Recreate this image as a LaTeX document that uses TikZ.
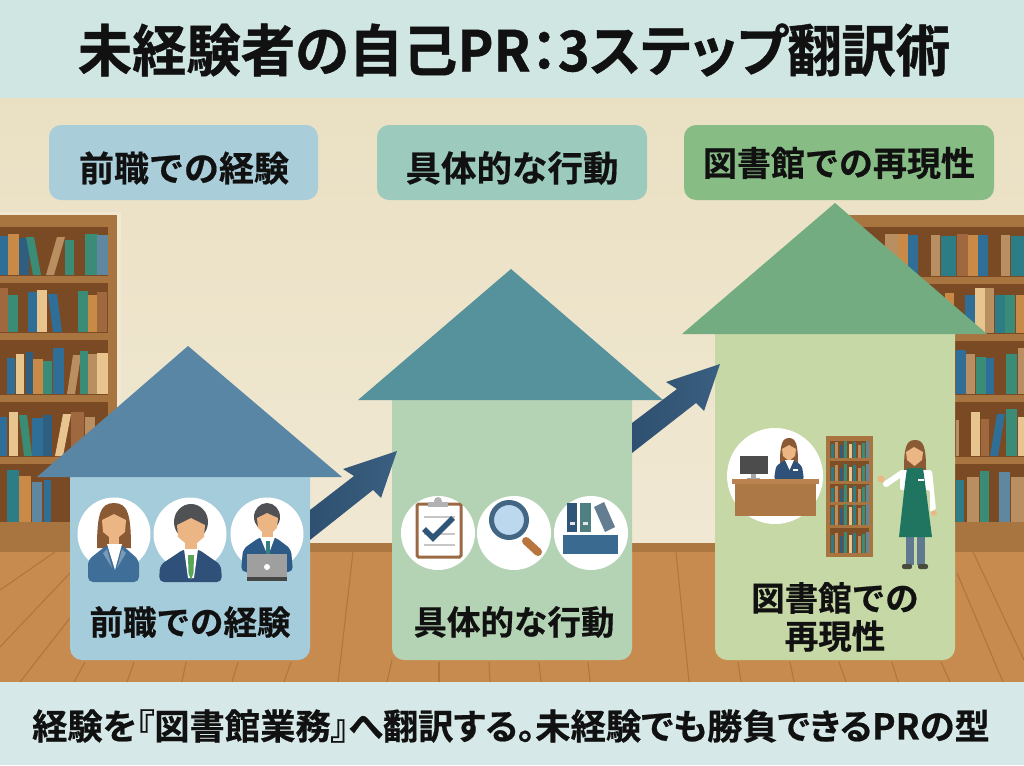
\documentclass[tikz,border=0pt]{standalone}
\usepackage{fontspec}
\setmainfont{Noto Sans CJK JP}
\newfontfamily\hv[FakeBold=0.5]{Noto Sans CJK JP Bold}
\newfontfamily\hvp[FakeBold=0.6,RawFeature={+palt}]{Noto Sans CJK JP Bold}
\newfontfamily\hvt[FakeBold=0.8,FakeStretch=0.97,RawFeature={+palt}]{Noto Sans CJK JP Bold}
\definecolor{bb}{HTML}{2F6E96}\definecolor{bo}{HTML}{C98A48}\definecolor{bd}{HTML}{2E5F80}
\definecolor{bg}{HTML}{3B8C76}\definecolor{bt}{HTML}{B98E60}\definecolor{bc}{HTML}{E8C58E}
\definecolor{bn}{HTML}{A0683E}\definecolor{bs}{HTML}{5F87A0}\definecolor{bq}{HTML}{2C7D85}
\definecolor{wood}{HTML}{A8743F}\definecolor{woodd}{HTML}{7A4A24}\definecolor{floorc}{HTML}{C78B4F}
\definecolor{seam}{HTML}{AE7740}\definecolor{band}{HTML}{D0E6E3}\definecolor{bandb}{HTML}{D6E9E8}
\definecolor{skin}{HTML}{EBB684}\definecolor{hairb}{HTML}{8A5A35}\definecolor{hairg}{HTML}{4F5154}
\definecolor{suita}{HTML}{3F6E98}\definecolor{suitb}{HTML}{2F5078}\definecolor{suitc}{HTML}{2E5A88}
\definecolor{arrowc}{HTML}{3A5F80}\definecolor{arrowd}{HTML}{2F5070}\definecolor{apron}{HTML}{1F7560}\definecolor{navy}{HTML}{2F5578}
\definecolor{ink}{HTML}{111111}\definecolor{walla}{HTML}{EAE0C3}\definecolor{wallb}{HTML}{F0E8D3}
\definecolor{bodya}{HTML}{A5CCDA}\definecolor{roofa}{HTML}{5A86A6}
\definecolor{bodyb}{HTML}{B4D3B4}\definecolor{roofb}{HTML}{56929C}
\definecolor{bodyc}{HTML}{C5D8A5}\definecolor{roofc}{HTML}{72AC80}
\definecolor{taga}{HTML}{A9CDD9}\definecolor{tagb}{HTML}{9CCBBE}\definecolor{tagc}{HTML}{88BC85}
\definecolor{clipb}{HTML}{9A6A44}\definecolor{handle}{HTML}{B8763E}\definecolor{lens}{HTML}{BBD8EE}
\definecolor{bindg}{HTML}{4F7F80}\definecolor{bindt}{HTML}{647D91}\definecolor{bindb}{HTML}{3A6A8F}
\definecolor{deskb}{HTML}{AC7846}\definecolor{deskt}{HTML}{BA824E}\definecolor{legs}{HTML}{5F7A90}\definecolor{shoe}{HTML}{4A4A3C}
\newcommand{\bk}[5]{\fill[#5] (#1,#3) rectangle (#2,#4);}
\newcommand{\tb}[6]{\fill[#6] (#1,#5) -- (#2,#4) -- (#2+#3,#4) -- (#1+#3,#5) -- cycle;}
\tikzset{
  title/.style={font=\hvt\fontsize{56}{56}\selectfont,text=ink,inner sep=0pt},
  lab/.style={font=\hv\fontsize{35.5}{35.5}\selectfont,text=ink,inner sep=0pt},
  hlab/.style={font=\hv\fontsize{33.5}{38}\selectfont,text=ink,inner sep=0pt,align=center},
  foot/.style={font=\hvp\fontsize{35.3}{35.3}\selectfont,text=ink,inner sep=0pt},
  seamline/.style={draw=seam,line width=1.1pt},
  disc/.style={fill=white},
  tagbox/.style={rounded corners=12pt},
  housebody/.style={rounded corners=12pt},
}
\begin{document}
\begin{tikzpicture}[x=1pt,y=-1pt]
\useasboundingbox (0,0) rectangle (1024,765);
% wall, floor, bands
\shade[top color=walla,bottom color=wallb] (0,98) rectangle (1024,546);
\fill[floorc] (0,546) rectangle (1024,682);
\fill[wood!85!floorc] (0,543) rectangle (1024,552);
\foreach \a/\b/\c/\d in {55/552/0/590,70/573/0/647,70/618/20/682,85/662/74/682,134/662/127/682,186/662/182/682,238/662/232/682,291/662/284/682,353/552/338/682,392/660/387/682,439/662/439/682,489/662/490/682,539/662/541/682,588/662/590/682,676/552/689/682,738/662/741/682,790/662/794/682,839/662/846/682,892/662/898/682,941/662/950/682,957/573/1003/682,973/552/1024/660}
  \draw[seamline] (\a,\b) -- (\c,\d);
\fill[band] (0,0) rectangle (1024,98);
\fill[bandb] (0,682) rectangle (1024,765);
% left bookcase
\fill[wallb] (0,212) rectangle (121,540);
\fill[woodd] (0,227) rectangle (108,522);
\fill[wood] (0,215) rectangle (117,227);
\fill[wood] (108,215) rectangle (117,522);
\fill[wood] (0,522) rectangle (117,552);
\foreach \y in {276,333,395,457} \fill[wood] (0,\y) rectangle (117,\y+7);
% left books
\bk{0}{8}{236}{275}{bb}\bk{8}{19}{234}{275}{bo}\bk{19}{29}{238}{275}{bd}
\tb{33}{26}{8}{237}{275}{bg}\tb{46}{57}{8}{237}{275}{bt}\bk{65}{74}{240}{275}{bg}
\bk{85}{98}{234}{275}{bg}\bk{97}{108}{235}{275}{bs}
\bk{0}{8}{288}{332}{bn}\bk{8}{18}{295}{332}{bg}\bk{28}{37}{292}{332}{bb}\bk{37}{47}{290}{332}{bc}
\tb{53}{48}{9}{294}{332}{bb}\bk{78}{88}{291}{332}{bg}\bk{88}{97}{295}{332}{bo}\bk{97}{107}{292}{332}{bn}
\bk{7}{15}{358}{394}{bb}\bk{16}{24}{354}{394}{bc}\bk{26}{33}{352}{394}{bd}\bk{33}{43}{359}{394}{bo}
\bk{43}{52}{361}{394}{bg}\bk{53}{64}{348}{394}{bb}\tb{67}{73}{8}{355}{394}{bt}\bk{80}{88}{351}{394}{bg}
\bk{88}{97}{354}{394}{bt}\bk{97}{108}{353}{394}{bc}
\bk{0}{7}{417}{456}{bb}\bk{9}{18}{412}{456}{bc}\tb{24}{19}{8}{415}{456}{bg}\bk{32}{43}{418}{456}{bb}
\bk{43}{52}{415}{456}{bd}\tb{55}{63}{8}{414}{456}{bc}\bk{71}{84}{412}{456}{bn}\bk{85}{95}{417}{456}{bt}
\bk{7}{19}{470}{522}{bq}\bk{19}{31}{476}{522}{bo}\bk{32}{42}{482}{522}{bs}\bk{44}{51}{480}{522}{bb}
% right bookcase
\fill[woodd] (840,227) rectangle (1024,522);
\fill[wood] (840,215) rectangle (1024,227);
\fill[wood] (840,522) rectangle (1024,552);
\foreach \y in {277,334,395,457} \fill[wood] (840,\y) rectangle (1024,\y+7);
\bk{885}{898}{234}{276}{bt}\bk{898}{908}{234}{276}{bo}\bk{908}{918}{235}{276}{bb}\bk{931}{940}{235}{276}{bt}
\bk{941}{956}{236}{276}{bq}\bk{957}{968}{234}{276}{bn}\bk{968}{978}{235}{276}{bo}\bk{978}{988}{235}{276}{bb}
\bk{1001}{1010}{235}{276}{bt}\bk{1011}{1024}{236}{276}{bq}
\bk{945}{954}{293}{333}{bo}\bk{965}{975}{295}{333}{bb}\bk{975}{985}{288}{333}{bc}\bk{985}{994}{288}{333}{bt}
\bk{995}{1005}{295}{333}{bq}\bk{1005}{1015}{295}{333}{bg}\bk{1016}{1024}{295}{333}{bo}
\bk{956}{966}{350}{394}{bb}\bk{966}{975}{354}{394}{bt}\bk{976}{986}{357}{394}{bg}\bk{986}{994}{358}{394}{bb}
\bk{1006}{1017}{354}{394}{bg}\bk{1018}{1024}{348}{394}{bt}
\bk{956}{959}{420}{456}{bt}\bk{971}{980}{412}{456}{bc}\bk{981}{989}{419}{456}{bn}\tb{990}{997}{8}{414}{456}{bb}
\bk{1006}{1017}{409}{456}{bg}\bk{1018}{1024}{417}{456}{bc}
\bk{956}{964}{480}{522}{bq}\bk{967}{979}{477}{522}{bt}\bk{980}{989}{471}{522}{bg}\bk{999}{1010}{472}{522}{bs}\bk{1011}{1024}{477}{522}{bt}
% houses
\fill[housebody,bodya] (70,465) rectangle (310,660);
\fill[roofa] (188,346) -- (342,477) -- (37,477) -- cycle;
\fill[housebody,bodyb] (392,388) rectangle (632,660);
\fill[roofb] (511,269) -- (663,400) -- (358,400) -- cycle;
\fill[housebody,bodyc] (715,322) rectangle (955,660);
\fill[roofc] (835,203) -- (987,334) -- (682,334) -- cycle;
% arrows
\path[left color=arrowd,right color=arrowc] (310,510) -- (354,476) -- (343,469) -- (397,451) -- (381,498) -- (373,490) -- (310,540) -- cycle;
\path[left color=arrowd,right color=arrowc] (632,423) -- (677,389) -- (666,382) -- (720,364) -- (704,411) -- (696,403) -- (632,453) -- cycle;
% top tags
\fill[tagbox,taga] (49,125) rectangle (318,200);
\fill[tagbox,tagb] (377,125) rectangle (647,200);
\fill[tagbox,tagc] (684,125) rectangle (994,200);
% people discs
\foreach \x in {114,190,267} \fill[disc] (\x,534) circle[radius=36.5pt];
\foreach \x in {438,514,591} \fill[disc] (\x,533) circle[radius=37pt];
% woman
\fill[hairb] (97,548) .. controls (97,515) and (100,503) .. (114,503) .. controls (128,503) and (131,515) .. (131,548) -- cycle;
\fill[skin] (102,520) -- (114,514) -- (126,520) -- (125,532) -- (114,541) -- (103,532) -- cycle;
\fill[skin] (109,535) rectangle (119,548);
\fill[suita,rounded corners=5pt] (88,582) -- (88,560) -- (107,545) -- (122,545) -- (139,560) -- (139,582) -- cycle;
\fill[white] (107,544) -- (122,544) -- (115,570) -- cycle;
\fill[suita!70!white] (107,549) -- (103,553) -- (112,568) -- cycle;
\fill[suita!70!white] (122,549) -- (126,553) -- (117,568) -- cycle;
% man 2
\fill[hairg] (191,522) ellipse[x radius=17pt,y radius=18pt];
\fill[skin] (177,525) -- (191,518) -- (205,525) -- (204,537) -- (191,548) -- (178,537) -- cycle;
\fill[skin] (185,540) rectangle (197,553);
\fill[suitb,rounded corners=5pt] (159,582) -- (160,565) -- (184,549) -- (198,549) -- (221,565) -- (222,582) -- cycle;
\fill[white] (184,549) -- (198,549) -- (194,578) -- (188,578) -- cycle;
\fill[green!30!gray] (188,555) -- (194,555) -- (193.5,573) -- (191,580) -- (188.5,573) -- cycle;
% man 3
\fill[hairg] (267,517) ellipse[x radius=13pt,y radius=14pt];
\fill[skin] (257,518) -- (267,513) -- (278,518) -- (277,528) -- (267.5,537) -- (258,528) -- cycle;
\fill[suitc,rounded corners=5pt] (241,572) -- (243,549) -- (260,537) -- (275,537) -- (291,549) -- (293,572) -- cycle;
\fill[skin] (262,530) rectangle (273,540);
\fill[white] (260,537) -- (275,537) -- (268,556) -- cycle;
\fill[teal!60!gray] (265.5,541) rectangle (270,554);
\fill[gray!75] (247,554) rectangle (287,577);
\fill[gray!55!black] (247,577) rectangle (287,581);
\fill[white] (267,567) circle[radius=3pt];
% clipboard
\fill[white,draw=clipb,line width=3pt,rounded corners=1.5pt] (417,504) rectangle (461,557);
\fill[gray!60] (428,502) rectangle (448,507);
\fill[gray!60] (438,501) circle[radius=4pt];
\foreach \y in {517,534,545} \draw[gray!45,line width=1.7pt] (424,\y) -- (455,\y);
\draw[navy,line width=5.5pt] (424,529) -- (433,538) -- (453,518);
% magnifier
\draw[handle,line width=8pt,line cap=round] (526,541) -- (538,552);
\fill[lens,draw=navy!90!white,line width=5pt] (509,520) circle[radius=17.5pt];
% binders
\fill[navy] (567,503) rectangle (577,532);
\fill[bindg] (580,503) rectangle (591,532);
\fill[bindt] (594,507) -- (604,502) -- (615,527) -- (605,532) -- cycle;
\fill[white!80!gray] (570,522) rectangle (575,525);\fill[white!80!gray] (583,522) rectangle (588,525);
\fill[bindb] (563,535) rectangle (618,554);
% library desk scene
\fill[disc] (775,476) circle[radius=48pt];
\fill[hairb] (780,463) .. controls (780,445) and (782,438) .. (789,438) .. controls (796,438) and (798,445) .. (798,463) -- cycle;
\fill[skin] (782,449) -- (789,445) -- (796,449) -- (795,456) -- (789,461) -- (783,456) -- cycle;
\fill[suitb,rounded corners=3pt] (774,480) -- (776,466) -- (785,460) -- (794,460) -- (802,466) -- (804,480) -- cycle;
\fill[white] (785,460) -- (794,460) -- (789.5,470) -- cycle;
\fill[white] (793,469) rectangle (798,471);
\fill[gray!60!black] (740,456) rectangle (768,474);
\fill[gray!70] (751,474) rectangle (756,478);
\fill[gray!70] (747,478) rectangle (760,480);
\fill[deskb] (735,484) rectangle (816,516);
\fill[deskt] (732,479) rectangle (819,484);
% small shelf
\fill[wood] (826,436) rectangle (873,557);
\fill[woodd!90!wood] (830,441) rectangle (869,553);
\foreach \y in {458,481,502,525} \fill[wood] (830,\y) rectangle (869,\y+3);
\foreach \y/\h in {458/14,481/14,502/14,525/18,553/18}{
  \foreach \xa/\c/\v in {831/bq/0,835/bt/2,840/bd/-1,844/bg/3,849/bc/0,853/bq/2,858/bt/-1,862/bg/1,866/bs/3}
    \fill[\c] (\xa,\y) rectangle (\xa+3,\y-\h-\v);
}
% standing librarian
\fill[hairb] (904,470) .. controls (904,448) and (906,440) .. (915,440) .. controls (924,440) and (926,448) .. (926,470) -- cycle;
\fill[skin] (906,452) -- (914,447) -- (923,452) -- (922,460) -- (914.5,466) -- (907,460) -- cycle;
\fill[white,rounded corners=2pt] (900,470) -- (932,470) -- (936,510) -- (930,512) -- (930,490) -- (900,490) -- cycle;
\draw[white,line width=6pt,line cap=round] (902,473) -- (886,484);
\fill[skin] (881,479) circle[radius=3.5pt];
\fill[skin] (934,513) circle[radius=2.8pt];
\fill[legs] (906,535) rectangle (914,565);
\fill[legs] (917,535) rectangle (925,565);
\fill[apron] (907,468) -- (923,468) -- (925,483) -- (932,537) -- (899,537) -- (905,483) -- cycle;
\fill[white] (918,479) rectangle (924,481);
\fill[shoe,rounded corners=2pt] (902,564) rectangle (912,569);
\fill[shoe,rounded corners=2pt] (918,564) rectangle (928,569);
% texts
\node[title] (ttl) at (514,50) {未経験者の自己PR：3ステップ翻訳術};
\node[lab,font=\hv\fontsize{35}{35}\selectfont] (t1) at (184,168) {前職での経験};
\node[lab] (t2) at (512,168) {具体的な行動};
\node[lab,font=\hv\fontsize{34}{34}\selectfont] (t3) at (839,163) {図書館での再現性};
\node[hlab] (h1) at (190,622) {前職での経験};
\node[hlab] (h2) at (514,622) {具体的な行動};
\node[hlab] (h3) at (835,617) {図書館での\\再現性};
\node[foot] (ft) at (511,726) {経験を『図書館業務』へ翻訳する。未経験でも勝負できるPRの型};
\end{tikzpicture}
\end{document}
